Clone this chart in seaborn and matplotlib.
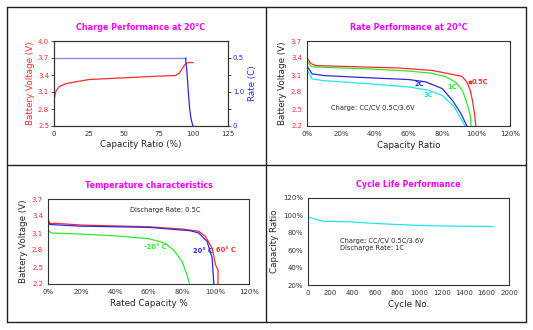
import matplotlib
matplotlib.use("Agg")
import matplotlib.pyplot as plt
from matplotlib.lines import Line2D
import seaborn as sns
import pandas as pd

# ---------------- data ----------------
# Charge performance at 20°C
charge_cap = [0, 0.8, 1.7, 4, 9, 16, 25, 50, 75, 87, 90, 92, 94, 95, 97, 100]
charge_volt = [2.95, 3.06, 3.13, 3.20, 3.25, 3.28, 3.32, 3.35, 3.38, 3.39, 3.43, 3.51, 3.58, 3.61, 3.62, 3.62]
rate_cap = [0, 94.5, 95.5, 96.5, 97.5, 98.5, 99.5, 100]
rate_c = [0.5, 0.5, 0.4, 0.25, 0.12, 0.05, 0.01, 0.0]
rate_ticks = [0, 0.125, 0.25, 0.375, 0.5]
rate_ticklabels = ["0", "", "1.0", "", "0.5"]

# Rate performance at 20°C
rate_names = ["0.5C", "1C", "2C", "3C"]
rp_cap = {
    "0.5C": [0, 0.4, 2.4, 5.3, 20, 54, 74, 86, 91.6, 94.5, 96.5, 97.8, 99, 99.8],
    "1C":   [0, 0.4, 2.5, 5.3, 35, 60, 74, 82, 88, 92, 94.5, 96.5, 97],
    "2C":   [0, 0.4, 3, 10, 30, 60, 70, 80, 86, 91, 94.5],
    "3C":   [0, 0.4, 3, 10, 30, 60, 72, 80, 87, 93.5],
}
rp_volt = {
    "0.5C": [3.42, 3.38, 3.30, 3.265, 3.253, 3.224, 3.18, 3.11, 3.076, 2.976, 2.83, 2.65, 2.42, 2.2],
    "1C":   [3.37, 3.33, 3.25, 3.24, 3.21, 3.17, 3.13, 3.07, 2.97, 2.82, 2.61, 2.38, 2.2],
    "2C":   [3.30, 3.24, 3.12, 3.09, 3.06, 3.02, 2.98, 2.86, 2.65, 2.42, 2.2],
    "3C":   [3.24, 3.17, 3.03, 3.00, 2.96, 2.89, 2.83, 2.74, 2.54, 2.2],
}
rp_label_pos = {"0.5C": (97.5, 2.98), "1C": (86, 2.88), "2C": (66.5, 2.95), "3C": (71.4, 2.74)}

# Temperature characteristics (0.5C discharge)
temp_names = ["60° C", "20° C", "-20° C"]
tc_cap = {
    "60° C":  [0, 0.3, 1, 5, 20, 60, 80, 90, 94, 98, 100, 101.5, 101.5],
    "20° C":  [0, 0.3, 1, 20, 60, 85, 90, 95, 98, 99],
    "-20° C": [0, 0.5, 2, 20, 40, 60, 70, 75, 80, 83, 84.5],
}
tc_volt = {
    "60° C":  [3.41, 3.33, 3.27, 3.27, 3.24, 3.21, 3.17, 3.13, 3.04, 2.83, 2.54, 2.45, 2.2],
    "20° C":  [3.36, 3.30, 3.25, 3.22, 3.20, 3.14, 3.10, 2.95, 2.66, 2.2],
    "-20° C": [3.18, 3.14, 3.10, 3.08, 3.05, 3.00, 2.92, 2.80, 2.60, 2.36, 2.2],
}
tc_label_pos = {"60° C": (106, 2.80), "20° C": (92.4, 2.79), "-20° C": (64.2, 2.86)}

# Cycle life performance
cycles = [0, 133, 385, 622, 948, 1185, 1659]
capacity_pct = [98.2, 93.3, 92.5, 90.6, 88.7, 87.9, 87.2]
cycle_ticks = [0, 200, 400, 600, 800, 1000, 1200, 1400, 1600, 1800]
cycle_ticklabels = ["0", "200", "400", "600", "800", "1000", "1200", "1400", "1600", "2000"]

# ---------------- style ----------------
sns.set_style("white")
plt.rcParams["font.family"] = ["DejaVu Sans"]

RED = "#ff2a2a"
GREEN = "#2ee82e"
BLUE = "#2a2ae0"
CYAN = "#22e6ee"
MAGENTA = "#ff00ff"
LIGHTBLUE = "#8c8cff"
TICK_FS = 5
LABEL_FS = 6.3
TITLE_FS = 5.8
NOTE_FS = 4.8

rate_colors = {"0.5C": RED, "1C": GREEN, "2C": BLUE, "3C": CYAN}
temp_colors = {"60° C": RED, "20° C": BLUE, "-20° C": GREEN}

W, H = 533, 330
fig = plt.figure(figsize=(W / 100, H / 100), dpi=100)


def add_axes(left, top, right, bottom):
    return fig.add_axes([left / W, 1 - bottom / H, (right - left) / W, (bottom - top) / H])


def style_axes(ax):
    for s in ax.spines.values():
        s.set_color("#333333")
        s.set_linewidth(0.8)
    ax.tick_params(axis="both", labelsize=TICK_FS, length=2, width=0.6, pad=1.5,
                   colors="#333333", direction="out")


# frame grid around the four panels
for x in (7, 266, 526):
    fig.add_artist(Line2D([x / W, x / W], [1 - 7 / H, 1 - 322 / H], color="#222222", lw=1.0))
for y in (7, 165, 322):
    fig.add_artist(Line2D([7 / W, 526 / W], [1 - y / H, 1 - y / H], color="#222222", lw=1.0))

# ---------- panel 1: charge performance ----------
ax1 = add_axes(54, 41, 228, 126)
df_ch = pd.DataFrame({"cap": charge_cap, "v": charge_volt})
sns.lineplot(data=df_ch, x="cap", y="v", ax=ax1, color=RED, lw=0.9, sort=False, estimator=None)
ax1.set_xlim(0, 125)
ax1.set_ylim(2.5, 4.0)
ax1.set_xticks([0, 25, 50, 75, 100, 125])
ax1.set_yticks([2.5, 2.8, 3.1, 3.4, 3.7, 4.0])
ax1.set_yticklabels(["2.5", "2.8", "3.1", "3.4", "3.7", "4.0"])
style_axes(ax1)
ax1.tick_params(axis="y", labelcolor=RED)
ax1.set_xlabel("Capacity Ratio (%)", fontsize=LABEL_FS, labelpad=2)
ax1.set_ylabel("Battery Voltage (V)", fontsize=LABEL_FS, color=RED, labelpad=2)

ax1r = ax1.twinx()
ax1r.set_position(ax1.get_position())
df_rt = pd.DataFrame({"cap": rate_cap, "c": rate_c})
sns.lineplot(data=df_rt.iloc[:2], x="cap", y="c", ax=ax1r, color=LIGHTBLUE, lw=1.0,
             sort=False, estimator=None)
sns.lineplot(data=df_rt.iloc[1:], x="cap", y="c", ax=ax1r, color=BLUE, lw=0.9,
             sort=False, estimator=None)
ax1r.set_ylim(0, 0.625)
ax1r.set_yticks(rate_ticks)
ax1r.set_yticklabels(rate_ticklabels)
style_axes(ax1r)
ax1r.tick_params(axis="y", labelcolor=BLUE)
ax1r.set_ylabel("Rate (C)", fontsize=LABEL_FS, color=BLUE, labelpad=3)
ax1.set_title("Charge Performance at 20°C", fontsize=TITLE_FS, color=MAGENTA,
              fontweight="bold", pad=8)

# ---------- panel 2: rate performance ----------
ax2 = add_axes(307, 41, 510, 126)
rows = []
for name in rate_names:
    for c, v in zip(rp_cap[name], rp_volt[name]):
        rows.append({"rate": name, "cap": c, "v": v})
df_rp = pd.DataFrame(rows)
sns.lineplot(data=df_rp, x="cap", y="v", hue="rate", palette=rate_colors, ax=ax2,
             lw=0.9, sort=False, estimator=None, legend=False)
for name in rate_names:
    x, y = rp_label_pos[name]
    ax2.text(x, y, name, fontsize=NOTE_FS, color=rate_colors[name], fontweight="bold",
             ha="center" if name != "0.5C" else "left", va="center")
ax2.plot([rp_label_pos["0.5C"][0] - 1.3], [rp_label_pos["0.5C"][1]], "o", ms=1.8, color=RED)
ax2.set_xlim(0, 120)
ax2.set_ylim(2.2, 3.7)
ax2.set_xticks([0, 20, 40, 60, 80, 100, 120])
ax2.set_xticklabels(["0%", "20%", "40%", "60%", "80%", "100%", "120%"])
ax2.set_yticks([2.2, 2.5, 2.8, 3.1, 3.4, 3.7])
ax2.set_yticklabels(["2.2", "2.5", "2.8", "3.1", "3.4", "3.7"])
style_axes(ax2)
ax2.tick_params(axis="y", labelcolor=RED)
ax2.set_xlabel("Capacity Ratio", fontsize=LABEL_FS, labelpad=3)
ax2.set_ylabel("Battery Voltage (V)", fontsize=LABEL_FS, labelpad=3)
ax2.text(14.1, 2.52, "Charge: CC/CV 0.5C/3.6V", fontsize=NOTE_FS, va="center", ha="left")
ax2.set_title("Rate Performance at 20°C", fontsize=TITLE_FS, color=MAGENTA,
              fontweight="bold", pad=8)

# ---------- panel 3: temperature characteristics ----------
ax3 = add_axes(48, 199, 249, 284)
rows = []
for name in temp_names:
    for c, v in zip(tc_cap[name], tc_volt[name]):
        rows.append({"temp": name, "cap": c, "v": v})
df_tc = pd.DataFrame(rows)
sns.lineplot(data=df_tc, x="cap", y="v", hue="temp", palette=temp_colors, ax=ax3,
             lw=0.9, sort=False, estimator=None, legend=False)
for name in temp_names:
    x, y = tc_label_pos[name]
    ax3.text(x, y, name, fontsize=NOTE_FS, color=temp_colors[name], fontweight="bold",
             ha="center", va="center")
ax3.set_xlim(0, 120)
ax3.set_ylim(2.2, 3.7)
ax3.set_xticks([0, 20, 40, 60, 80, 100, 120])
ax3.set_xticklabels(["0%", "20%", "40%", "60%", "80%", "100%", "120%"])
ax3.set_yticks([2.2, 2.5, 2.8, 3.1, 3.4, 3.7])
ax3.set_yticklabels(["2.2", "2.5", "2.8", "3.1", "3.4", "3.7"])
style_axes(ax3)
ax3.tick_params(axis="y", labelcolor=RED)
ax3.set_xlabel("Rated Capacity %", fontsize=LABEL_FS, labelpad=3)
ax3.set_ylabel("Battery Voltage (V)", fontsize=LABEL_FS, labelpad=3)
ax3.text(48.7, 3.5, "Discharge Rate: 0.5C", fontsize=NOTE_FS, va="center", ha="left")
ax3.set_title("Temperature characteristics", fontsize=TITLE_FS, color=MAGENTA,
              fontweight="bold", pad=8)

# ---------- panel 4: cycle life ----------
ax4 = add_axes(308, 198, 509, 285)
df_cy = pd.DataFrame({"cycle": cycles, "cap": capacity_pct})
sns.lineplot(data=df_cy, x="cycle", y="cap", ax=ax4, color=CYAN, lw=0.9,
             sort=False, estimator=None)
ax4.set_xlim(0, 1800)
ax4.set_ylim(20, 120)
ax4.set_xticks(cycle_ticks)
ax4.set_xticklabels(cycle_ticklabels)
ax4.set_yticks([20, 40, 60, 80, 100, 120])
ax4.set_yticklabels(["20%", "40%", "60%", "80%", "100%", "120%"])
style_axes(ax4)
ax4.set_xlabel("Cycle No.", fontsize=LABEL_FS, labelpad=3)
ax4.set_ylabel("Capacity Ratio", fontsize=LABEL_FS, labelpad=3)
ax4.text(290, 70.4, "Charge: CC/CV 0.5C/3.6V", fontsize=NOTE_FS, va="center", ha="left")
ax4.text(290, 62.0, "Discharge Rate: 1C", fontsize=NOTE_FS, va="center", ha="left")
ax4.set_title("Cycle Life Performance", fontsize=TITLE_FS, color=MAGENTA,
              fontweight="bold", pad=8)

fig.savefig("out.png", dpi=100)
